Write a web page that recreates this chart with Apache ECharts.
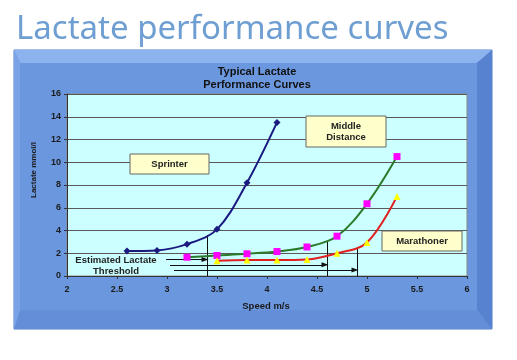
<!DOCTYPE html>
<html>
<head>
<meta charset="utf-8">
<script src="https://cdn.jsdelivr.net/npm/echarts@6/dist/echarts.min.js"></script>
<style>
html,body{margin:0;padding:0;background:#fff;}
#c{width:517px;height:360px;}
</style>
</head>
<body>
<div id="c"></div>
<script>
// ---- data ----
var sprinterX = [2.6, 2.9, 3.2, 3.5, 3.8, 4.1];
var sprinterY = [2.2, 2.25, 2.8, 4.1, 8.2, 13.5];
var middleX = [3.2, 3.5, 3.8, 4.1, 4.4, 4.7, 5.0, 5.3];
var middleY = [1.65, 1.8, 1.95, 2.15, 2.55, 3.5, 6.35, 10.5];
var marathonX = [3.5, 3.8, 4.1, 4.4, 4.7, 5.0, 5.3];
var marathonY = [1.35, 1.4, 1.4, 1.45, 2.0, 2.95, 7.0];
var thresholdSpeed = [3.4, 4.6, 4.9];
var thresholdTop = [3.6, 3.0, 2.55];
var arrowLevel = [1.44, 0.98, 0.52];
var arrowStart = [2.99, 3.03, 3.07];
var xTicks = [2, 2.5, 3, 3.5, 4, 4.5, 5, 5.5, 6];
var yTicks = [0, 2, 4, 6, 8, 10, 12, 14, 16];

function pairs(xs, ys){ return xs.map(function(x,i){ return [x, ys[i]]; }); }

var markLines = [];
for (var i = 0; i < thresholdSpeed.length; i++) {
  markLines.push([{coord:[thresholdSpeed[i], 0], symbol:'none'}, {coord:[thresholdSpeed[i], thresholdTop[i]], symbol:'none'}]);
  markLines.push([{coord:[arrowStart[i], arrowLevel[i]], symbol:'none'}, {coord:[thresholdSpeed[i] - 0.02, arrowLevel[i]], symbol:'triangle', symbolSize:[5,7], symbolRotate:-90}]);
}

var chart = echarts.init(document.getElementById('c'), null, {renderer:'canvas'});
var F = 'Liberation Sans, Arial, sans-serif';

function box(x, y, w, h, txt) {
  return {
    type:'group', z:100,
    children:[
      {type:'rect', z:100, shape:{x:x, y:y, width:w, height:h}, style:{fill:'#ffffcc', stroke:'#666', lineWidth:1}},
      {type:'text', z:101, x:x + w/2, y:y + h/2, style:{text:txt, fill:'#222', font:'bold 9.5px ' + F, align:'center', verticalAlign:'middle', lineHeight:11}}
    ]
  };
}

var option = {
  animation:false,
  backgroundColor:'#ffffff',
  graphic:[
    // frame
    {type:'rect', z:-10, shape:{x:14, y:50, width:478, height:279}, style:{fill:'#6a95dc', stroke:'#4f7cc6', lineWidth:1}},
    {type:'polygon', z:-9, shape:{points:[[14,50],[492,50],[477,63],[20,63]]}, style:{fill:'#8cb3ee'}},
    {type:'polygon', z:-9, shape:{points:[[492,50],[492,329],[477,310],[477,63]]}, style:{fill:'#5682cf'}},
    {type:'polygon', z:-9, shape:{points:[[14,329],[492,329],[477,310],[20,310]]}, style:{fill:'#648fd8'}},
    {type:'polygon', z:-9, shape:{points:[[14,50],[20,63],[20,310],[14,329]]}, style:{fill:'#7aa2e6'}},
    {type:'rect', z:-8, shape:{x:20, y:63, width:457, height:247}, style:{fill:'#6b97de'}},
    // page title
    {type:'text', left:16, top:13, style:{text:'Lactate performance curves', fill:'#6f9fd2', font:'33px "Noto Sans", sans-serif'}},
    // chart title
    {type:'text', x:257, y:78, style:{text:'Typical Lactate\nPerformance Curves', fill:'#111', font:'bold 11px ' + F, align:'center', verticalAlign:'middle', lineHeight:13}},
    // y axis name
    {type:'text', x:34, y:170, rotation:Math.PI/2, style:{text:'Lactate mmol/l', fill:'#1a1a1a', font:'bold 8px ' + F, align:'center', verticalAlign:'middle'}},
    // x axis name
    {type:'text', x:266, y:306, style:{text:'Speed m/s', fill:'#1a1a1a', font:'bold 9.5px ' + F, align:'center', verticalAlign:'middle'}},
    // threshold label
    {type:'text', x:116, y:266, z:90, style:{text:'Estimated Lactate\nThreshold', fill:'#222', font:'bold 9.5px ' + F, align:'center', verticalAlign:'middle', lineHeight:11}},
    box(130, 154, 79, 20, 'Sprinter'),
    box(306, 116, 80, 31, 'Middle\nDistance'),
    box(382, 231, 80, 20, 'Marathoner')
  ],
  grid:{left:67, right:50, top:94, bottom:84, show:true, backgroundColor:'#ccffff', borderColor:'#8a8a8a', borderWidth:1},
  xAxis:{
    type:'value', min:2, max:6, interval:0.5,
    axisLine:{show:true, onZero:false, lineStyle:{color:'#333'}},
    axisTick:{show:true, length:3, lineStyle:{color:'#333'}},
    axisLabel:{color:'#1a1a1a', fontFamily:F, fontWeight:'bold', fontSize:9, margin:9,
      formatter:function(v){ return xTicks.indexOf(v) >= 0 ? String(v) : ''; }},
    splitLine:{show:false}
  },
  yAxis:{
    type:'value', min:0, max:16, interval:2,
    axisLine:{show:true, lineStyle:{color:'#333'}},
    axisTick:{show:true, length:3, lineStyle:{color:'#333'}},
    axisLabel:{color:'#1a1a1a', fontFamily:F, fontWeight:'bold', fontSize:9, margin:6,
      formatter:function(v){ return yTicks.indexOf(v) >= 0 ? String(v) : ''; }},
    splitLine:{show:true, lineStyle:{color:'#5a5a5a', width:1}}
  },
  series:[
    {type:'line', name:'Sprinter', data:pairs(sprinterX, sprinterY), smooth:0.35,
      symbol:'diamond', symbolSize:7, lineStyle:{color:'#1a1a80', width:2}, itemStyle:{color:'#1a1a80'}, z:5},
    {type:'line', name:'Middle', data:pairs(middleX, middleY), smooth:0.35,
      symbol:'rect', symbolSize:7, lineStyle:{color:'#2a7a2a', width:2}, itemStyle:{color:'#ff00ff'}, z:5},
    {type:'line', name:'Marathon', data:pairs(marathonX, marathonY), smooth:0.35,
      symbol:'triangle', symbolSize:7, lineStyle:{color:'#e02020', width:2}, itemStyle:{color:'#ffff00'}, z:6},
    {type:'line', name:'thresholds', data:[], z:4,
      markLine:{silent:true, animation:false, label:{show:false},
        lineStyle:{color:'#111', width:1, type:'solid'},
        symbol:['none','none'],
        data:markLines}}
  ]
};
chart.setOption(option);
</script>
</body>
</html>
